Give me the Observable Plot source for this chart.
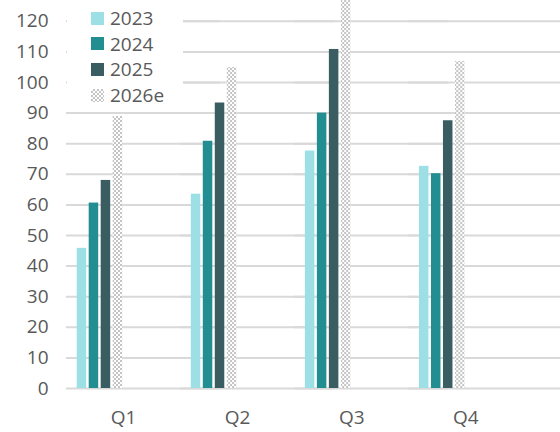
<!DOCTYPE html>
<html>
<head>
<meta charset="utf-8">
<script src="https://cdn.jsdelivr.net/npm/d3@7"></script>
<script src="https://cdn.jsdelivr.net/npm/@observablehq/plot@0.6"></script>
<style>
  html, body { margin: 0; padding: 0; background: #fff; }
  #wrap { position: relative; width: 560px; height: 432px; overflow: hidden; font-family: "Open Sans", sans-serif; }
  #legend { position: absolute; left: 67px; top: 0px; width: 116px; height: 106px; background: #fff; padding-top: 5.5px; box-sizing: border-box; }
  .item { display: flex; align-items: center; height: 25.6px; font-size: 19px; color: #595959; }
  .sw { width: 13px; height: 13px; margin-left: 24px; margin-right: 6px; }
</style>
</head>
<body>
<svg width="0" height="0" style="position:absolute">
  <defs>
    <pattern id="checker" width="4" height="4" patternUnits="userSpaceOnUse">
      <rect width="4" height="4" fill="#ffffff"></rect>
      <rect width="2" height="2" fill="#c4c4c4"></rect>
      <rect x="2" y="2" width="2" height="2" fill="#c4c4c4"></rect>
    </pattern>
  </defs>
</svg>
<div id="wrap"><div id="legend"></div></div>
<script>
const quarters = ["Q1", "Q2", "Q3", "Q4"];
const series = ["2023", "2024", "2025", "2026e"];
const v2023 = [45.8, 63.5, 77.6, 72.6];
const v2024 = [60.6, 80.8, 90.0, 70.2];
const v2025 = [68.0, 93.3, 110.8, 87.5];
const v2026e = [88.9, 104.9, 130.0, 106.9];
const yTicks = [0, 10, 20, 30, 40, 50, 60, 70, 80, 90, 100, 110, 120];
const seriesColors = ["#9ce0e6", "#238e92", "#3a5d62", "url(#checker)"];

const valuesBySeries = [v2023, v2024, v2025, v2026e];
const data = [];
quarters.forEach((q, qi) => {
  series.forEach((s, si) => {
    data.push({quarter: q, series: s, value: valuesBySeries[si][qi]});
  });
});

const chart = Plot.plot({
  width: 560,
  height: 432,
  marginLeft: 66,
  marginRight: 0,
  marginTop: 0,
  marginBottom: 44,
  style: {fontFamily: "Open Sans, sans-serif", fontSize: "19px", color: "#595959", background: "transparent", overflow: "hidden"},
  fx: {domain: quarters, paddingInner: 0, paddingOuter: 0.165, align: 0, round: false, label: null, tickSize: 0, tickPadding: 22},
  x: {domain: series, paddingInner: 0.208, paddingOuter: 2.858, align: 0.156, round: false, axis: null},
  y: {domain: [0, 126.8], ticks: yTicks, tickSize: 0, tickPadding: 18, label: null, grid: false},
  color: {domain: series, range: seriesColors},
  marks: [
    Plot.ruleY(yTicks, {y: d => d, stroke: "#d9d9d9", strokeWidth: 2, insetRight: -40}),
    Plot.barY(data, {fx: "quarter", x: "series", y: "value", fill: "series", clip: "frame"})
  ]
});
document.getElementById("wrap").appendChild(chart);

const legend = document.getElementById("legend");
series.forEach((s, i) => {
  const item = document.createElement("div");
  item.className = "item";
  const sw = document.createElement("div");
  sw.className = "sw";
  if (i === 3) {
    sw.style.background = "repeating-conic-gradient(#c4c4c4 0 25%, #ffffff 0 50%) 0 0 / 4px 4px";
  } else {
    sw.style.background = seriesColors[i];
  }
  const label = document.createElement("span");
  label.textContent = s;
  item.appendChild(sw);
  item.appendChild(label);
  legend.appendChild(item);
});
</script>
</body>
</html>
